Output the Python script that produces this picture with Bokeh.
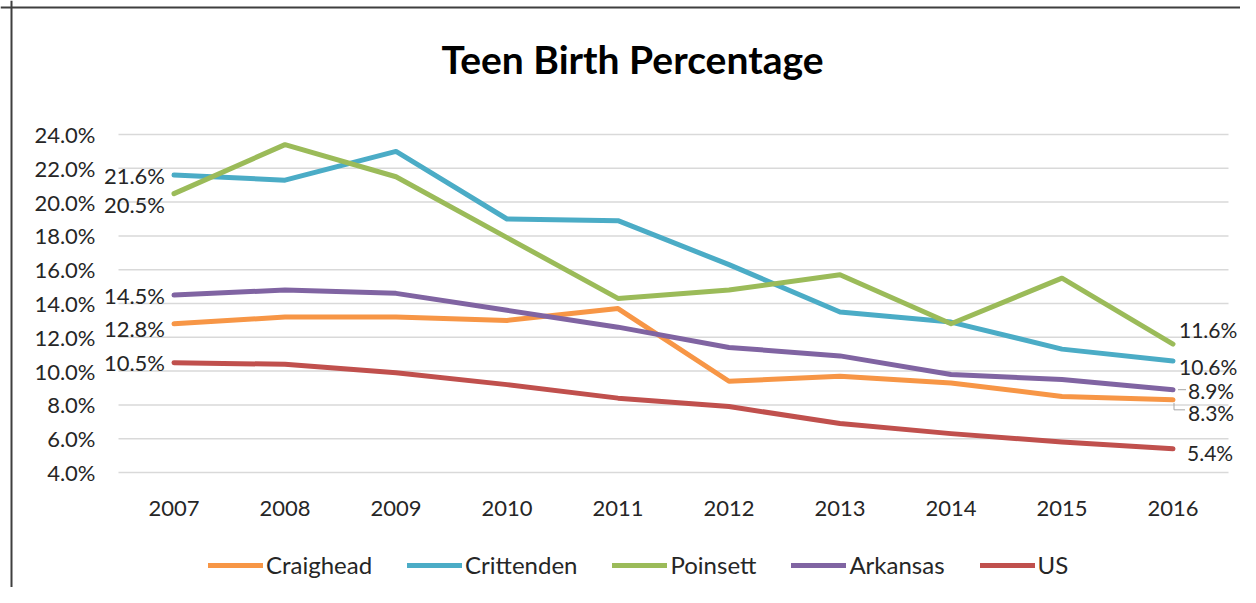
from bokeh.plotting import figure
from bokeh.models import ColumnDataSource, LabelSet, Label, Legend, LegendItem, Range1d, Span
from bokeh.core.properties import value
from bokeh.embed import file_html
from bokeh.resources import INLINE

# ---- data ----
years = ["2007", "2008", "2009", "2010", "2011", "2012", "2013", "2014", "2015", "2016"]
craighead = [12.8, 13.2, 13.2, 13.0, 13.7, 9.4, 9.7, 9.3, 8.5, 8.3]
crittenden = [21.6, 21.3, 23.0, 19.0, 18.9, 16.3, 13.5, 12.9, 11.3, 10.6]
poinsett = [20.5, 23.4, 21.5, 17.9, 14.3, 14.8, 15.7, 12.8, 15.5, 11.6]
arkansas = [14.5, 14.8, 14.6, 13.6, 12.6, 11.4, 10.9, 9.8, 9.5, 8.9]
us = [10.5, 10.4, 9.9, 9.2, 8.4, 7.9, 6.9, 6.3, 5.8, 5.4]
y_ticks = [4.0, 6.0, 8.0, 10.0, 12.0, 14.0, 16.0, 18.0, 20.0, 22.0, 24.0]
title_text = "Teen Birth Percentage"

FONT = "Lato"
TXT = "#262626"
series = [
    ("Craighead", craighead, "#F79646"),
    ("Crittenden", crittenden, "#4BACC6"),
    ("Poinsett", poinsett, "#9BBB59"),
    ("Arkansas", arkansas, "#8064A2"),
    ("US", us, "#C0504D"),
]
first_off = {"Craighead": -5, "Crittenden": 0, "Poinsett": -11, "Arkansas": 0, "US": 0}
last_off = {"Craighead": (15, -13), "Crittenden": (6, -6), "Poinsett": (6, 15),
            "Arkansas": (15, -1), "US": (14, -4)}

# ---- layout (pixels within the figure) ----
W, H = 1240, 587
PLOT_L, PLOT_R, PLOT_T, PLOT_B = 118, 1228, 134, 472

n = len(years)
xs = list(range(n))
ppx = (PLOT_R - PLOT_L) / n                       # px per category
ppy = (PLOT_B - PLOT_T) / (y_ticks[-1] - y_ticks[0])  # px per percent
x0 = -0.5 - PLOT_L / ppx
x1 = (n - 0.5) + (W - PLOT_R) / ppx
y0 = y_ticks[0] - (H - PLOT_B) / ppy
y1 = y_ticks[-1] + PLOT_T / ppy

p = figure(width=W, height=H, output_backend="svg", toolbar_location=None,
           x_range=Range1d(x0, x1), y_range=Range1d(y0, y1),
           x_axis_type=None, y_axis_type=None,
           min_border=0, min_border_left=0, min_border_right=0,
           min_border_top=0, min_border_bottom=0)
p.outline_line_color = None
p.background_fill_color = "white"
p.border_fill_color = "white"
p.grid.visible = False

# chart-area border (left and top)
p.add_layout(Span(location=x0 + 11 / ppx, dimension="height", line_color="#3f3f3f", line_width=2))
p.add_layout(Span(location=y1 - 7 / ppy, dimension="width", line_color="#3f3f3f", line_width=2))

# horizontal gridlines
p.segment(x0=[-0.5] * len(y_ticks), x1=[n - 0.5] * len(y_ticks), y0=y_ticks, y1=y_ticks,
          line_color="#D9D9D9", line_width=1.5)

# y tick labels
ysrc = ColumnDataSource(dict(x=[-0.5] * len(y_ticks), y=y_ticks, t=[f"{v:.1f}%" for v in y_ticks]))
p.add_layout(LabelSet(x="x", y="y", text="t", source=ysrc, text_align="right",
                      text_baseline="middle", x_offset=-23,
                      text_font=value(FONT), text_font_size="22px", text_color=TXT))
# x tick labels
xsrc = ColumnDataSource(dict(x=xs, y=[y_ticks[0]] * n, t=years))
p.add_layout(LabelSet(x="x", y="y", text="t", source=xsrc, text_align="center",
                      text_baseline="middle", y_offset=-36,
                      text_font=value(FONT), text_font_size="22px", text_color=TXT))

# leader lines for crowded end labels
last = n - 1
p.multi_line(
    xs=[[last + 5 / ppx, last + 13 / ppx],
        [last + 1 / ppx, last + 1 / ppx, last + 12 / ppx]],
    ys=[[arkansas[-1], arkansas[-1]],
        [craighead[-1] - 3 / ppy, craighead[-1] - 10 / ppy, craighead[-1] - 10 / ppy]],
    line_color="#A6A6A6", line_width=1)

items = []
for name, vals, color in series:
    r = p.line(xs, vals, line_color=color, line_width=5, line_cap="round", line_join="round")
    items.append(LegendItem(label=name, renderers=[r]))
    fsrc = ColumnDataSource(dict(x=[xs[0]], y=[vals[0]], t=[f"{vals[0]:.1f}%"]))
    p.add_layout(LabelSet(x="x", y="y", text="t", source=fsrc, text_align="right",
                          text_baseline="middle", x_offset=-9, y_offset=first_off[name],
                          text_font=value(FONT), text_font_size="22px", text_color=TXT))
    lx, ly = last_off[name]
    lsrc = ColumnDataSource(dict(x=[xs[-1]], y=[vals[-1]], t=[f"{vals[-1]:.1f}%"]))
    p.add_layout(LabelSet(x="x", y="y", text="t", source=lsrc, text_align="left",
                          text_baseline="middle", x_offset=lx, y_offset=ly,
                          text_font=value(FONT), text_font_size="21px", text_color=TXT))

p.add_layout(Label(x=(n - 1) / 2.0, y=y_ticks[-1], x_offset=-41, y_offset=76, text=title_text,
                   text_align="center", text_baseline="middle", text_font=FONT,
                   text_font_style="bold", text_font_size="39px", text_color="black"))

legend = Legend(items=items, orientation="horizontal", location=(208, 8),
                glyph_width=55, glyph_height=20, label_height=20, label_standoff=3, spacing=35,
                padding=0, margin=0, background_fill_alpha=0, border_line_color=None,
                label_text_font=FONT, label_text_font_size="24px", label_text_color=TXT)
p.add_layout(legend)

open("out.html", "w").write(file_html(p, INLINE))
